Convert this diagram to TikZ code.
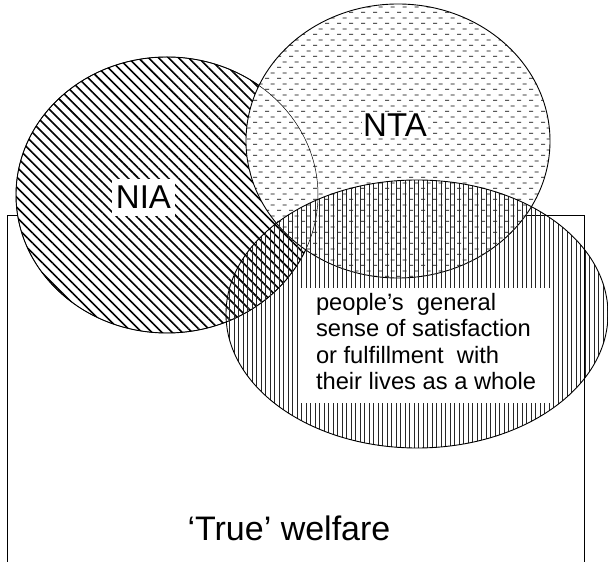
\documentclass[tikz,border=0pt]{standalone}
\usepackage{fontspec}
\setmainfont{Liberation Sans}
\usetikzlibrary{patterns, patterns.meta}
\newcommand{\bgcol}{white}
% staggered rows of short dashes
\pgfdeclarepatternformonly{hdashes}{\pgfqpoint{0pt}{0pt}}{\pgfqpoint{11.5pt}{11.34pt}}{\pgfqpoint{11.5pt}{11.34pt}}{%
    \pgfsetlinewidth{0.8pt}
    \pgfpathmoveto{\pgfqpoint{0pt}{2.8pt}}\pgfpathlineto{\pgfqpoint{4.2pt}{2.8pt}}
    \pgfpathmoveto{\pgfqpoint{5.75pt}{8.47pt}}\pgfpathlineto{\pgfqpoint{9.95pt}{8.47pt}}
    \pgfusepath{stroke}}

\begin{document}
\begin{tikzpicture}[x=1pt, y=1pt,
        nia/.style={preaction={fill=\bgcol}, pattern={Lines[angle=-45, distance=7.1pt, line width=1.6pt]}},
        nta/.style={preaction={fill=\bgcol}, pattern=hdashes, pattern color=black},
        swb/.style={pattern={Lines[angle=90, distance=4.5pt, line width=0.7pt]}, pattern color=black!85},
        areatext/.style={fill=\bgcol, font=\fontsize{33}{40}\selectfont}]
        \useasboundingbox (0,0) rectangle (608,562);
        %\draw[help lines] (0,0) grid[step=50] (608,562);
        % 'true' welfare, open at the bottom
        \draw[line width=1pt] (7,0) -- (7,346) -- (584,346) -- (584,0);
        \begin{scope}[line width=0.9pt]
            \draw[nia] (167,367) ellipse [x radius=151, y radius=138];
            \draw[nta] (398,421) ellipse [x radius=152, y radius=137];
            \draw[line width=0.5pt] (167,367) ellipse [x radius=151, y radius=138];
            \draw[swb] (417,248) ellipse [x radius=191, y radius=134];
        \end{scope}
        \node[areatext, inner xsep=4pt, inner ysep=7.5pt] (nialbl) at (143.5,364.5) {NIA};
        \node[areatext, inner sep=1.5pt] (ntalbl) at (395,437) {NTA};
        \node[fill=\bgcol, minimum width=252pt, minimum height=115pt, inner sep=0pt] (swbbox) at (424,216.5) {};
        \node[anchor=north west, inner sep=0pt, xshift=18pt, yshift=-5pt, align=left,
            font=\fontsize{23.7}{26.6}\selectfont] (swblbl) at (swbbox.north west)
            {people’s\ \ general\\sense of satisfaction\\or fulfillment\ \ with\\their lives as a whole};
        \node[font=\fontsize{34}{40}\selectfont] (welfare) at (289,34) {‘True’ welfare};
    \end{tikzpicture}
\end{document}
